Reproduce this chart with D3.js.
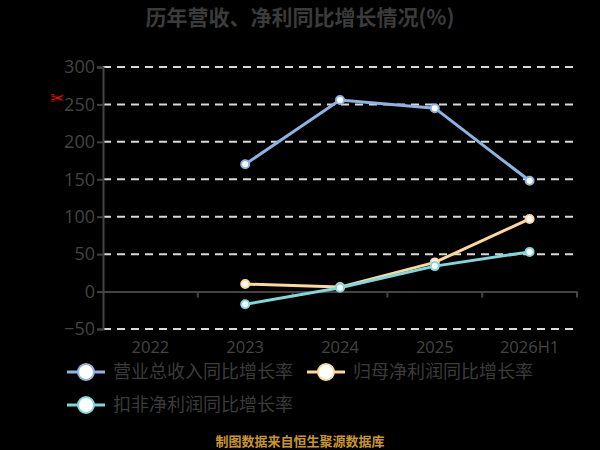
<!DOCTYPE html>
<html>
<head>
<meta charset="utf-8">
<script src="https://cdn.jsdelivr.net/npm/d3@7"></script>
<style>
  body { margin: 0; background: #000; }
  svg { display: block; }
</style>
</head>
<body>
<script>
// categories + series
const years = ["2022", "2023", "2024", "2025", "2026H1"];
const revenueGrowth = [null, 170, 256, 245, 148];
const netProfitGrowth = [null, 10, 6, 39, 97];
const deductedGrowth = [null, -17, 5, 34, 53];
const yTicks = [-50, 0, 50, 100, 150, 200, 250, 300];

const series = [
  {name: "营业总收入同比增长率", values: revenueGrowth, color: "#8db3e2"},
  {name: "归母净利润同比增长率", values: netProfitGrowth, color: "#fed89a"},
  {name: "扣非净利润同比增长率", values: deductedGrowth, color: "#7fd9dc"}
];

var width = 600, height = 450;
var margin = {left: 103, right: 23};

var svg = d3.select("body").append("svg")
  .attr("width", width)
  .attr("height", height)
  .style("font-family", "'Noto Sans CJK SC', 'Noto Sans', sans-serif");

svg.append("rect").attr("width", width).attr("height", height).attr("fill", "#000");

// title
svg.append("text")
  .attr("x", 300).attr("y", 25)
  .attr("text-anchor", "middle")
  .attr("font-size", 21)
  .attr("font-weight", "bold")
  .attr("fill", "#3b3b3b")
  .text("历年营收、净利同比增长情况(%)");

var x = d3.scaleBand()
  .domain(years)
  .range([margin.left, width - margin.right]);

// -50 sits at ~329, 300 at ~67
var y = d3.scaleLinear()
  .domain([-50, 300])
  .range([329, 67]);

// grid lines
svg.append("g")
  .selectAll("line")
  .data(yTicks.filter(d => d != 0))
  .join("line")
    .attr("x1", margin.left)
    .attr("x2", width - margin.right)
    .attr("y1", d => y(d))
    .attr("y2", d => y(d))
    .attr("stroke", "#d9d9d9")
    .attr("stroke-width", 2)
    .attr("stroke-dasharray", "8,6");

// y axis
var yAxis = svg.append("g")
  .attr("transform", "translate(" + margin.left + ",0)")
  .call(d3.axisLeft(y).tickValues(yTicks).tickSize(6).tickPadding(2));
yAxis.select(".domain").attr("stroke", "#444").attr("stroke-width", 2);
yAxis.selectAll(".tick line").attr("stroke", "#444").attr("stroke-width", 2);
yAxis.selectAll(".tick text")
  .attr("fill", "#444")
  .attr("font-size", 18)
  .style("font-family", "'Open Sans', 'Noto Sans', sans-serif");

// x axis at zero
var xAxis = svg.append("g")
  .attr("transform", "translate(0," + y(0) + ")")
  .call(d3.axisBottom(x).tickSizeOuter(0).tickSize(0).tickFormat(""));
xAxis.select(".domain").attr("stroke", "#444").attr("stroke-width", 2);

svg.append("g")
  .selectAll("line")
  .data(years)
  .join("line")
    .attr("x1", (d, i) => x.range()[0] + x.step() * (i + 1))
    .attr("x2", (d, i) => x.range()[0] + x.step() * (i + 1))
    .attr("y1", y(0))
    .attr("y2", y(0) + 6)
    .attr("stroke", "#444")
    .attr("stroke-width", 2);

// x labels below the plot
svg.append("g")
  .selectAll("text")
  .data(years)
  .join("text")
    .attr("x", d => x(d) + x.bandwidth() / 2)
    .attr("y", 353)
    .attr("text-anchor", "middle")
    .attr("fill", "#444")
    .attr("font-size", 16.5)
    .style("font-family", "'Open Sans', 'Noto Sans', sans-serif")
    .text(d => d);

// lines
var line = d3.line()
  .defined(d => d.v != null)
  .x(d => x(d.year) + x.bandwidth() / 2)
  .y(d => y(d.v));

series.forEach(s => {
  var pts = years.map((yr, i) => ({year: yr, v: s.values[i]}));
  svg.append("path")
    .datum(pts)
    .attr("fill", "none")
    .attr("stroke", s.color)
    .attr("stroke-width", 3)
    .attr("d", line);
  svg.append("g")
    .selectAll("circle")
    .data(pts.filter(d => d.v != null))
    .join("circle")
      .attr("cx", d => x(d.year) + x.bandwidth() / 2)
      .attr("cy", d => y(d.v))
      .attr("r", 4)
      .attr("fill", "#fff")
      .attr("stroke", s.color)
      .attr("stroke-width", 2);
});

// legend
var legendPos = [[67, 372], [307, 372], [67, 405]];
var legend = svg.append("g")
  .selectAll("g")
  .data(series)
  .join("g")
    .attr("transform", (d, i) => "translate(" + legendPos[i][0] + "," + legendPos[i][1] + ")");
legend.append("line")
  .attr("x1", 0).attr("x2", 38)
  .attr("stroke", d => d.color)
  .attr("stroke-width", 3);
legend.append("circle")
  .attr("cx", 19).attr("r", 8)
  .attr("fill", "#fff")
  .attr("stroke", d => d.color)
  .attr("stroke-width", 2);
legend.append("text")
  .attr("x", 46).attr("dy", "0.35em")
  .attr("fill", "#3b3b3b")
  .attr("font-size", 18)
  .text(d => d.name);

// stray red mark beside the 250 label
svg.append("text")
  .attr("x", 57).attr("y", 104)
  .attr("text-anchor", "middle")
  .attr("fill", "#ff0000")
  .attr("font-size", 17)
  .attr("font-weight", "bold")
  .style("font-family", "'DejaVu Sans'")
  .text("✂");

// source
svg.append("text")
  .attr("x", 300).attr("y", 446)
  .attr("text-anchor", "middle")
  .attr("fill", "#c9962c")
  .attr("font-size", 13)
  .attr("font-weight", "bold")
  .text("制图数据来自恒生聚源数据库");
</script>
</body>
</html>
